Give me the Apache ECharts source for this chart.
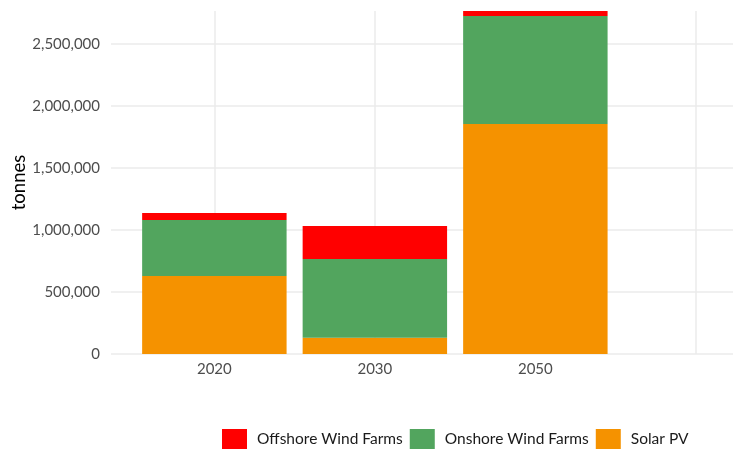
<!DOCTYPE html>
<html>
<head>
<meta charset="utf-8">
<script src="https://cdn.jsdelivr.net/npm/echarts@6/dist/echarts.min.js"></script>
<style>
html,body{margin:0;padding:0;background:#fff;}
#chart{width:733px;height:450px;}
</style>
</head>
<body>
<div id="chart"></div>
<script>
// ---- data ----
var categories = ['2020', '2030', '2050', ''];
var solarPV = [629000, 132000, 1855000, null];
var onshoreWind = [452000, 634000, 871000, null];
var offshoreWind = [56000, 266000, 40000, null];
var yTicks = [0, 500000, 1000000, 1500000, 2000000, 2500000];
var yMax = 2766000;
var legendOrder = ['Offshore Wind Farms', 'Onshore Wind Farms', 'Solar PV'];

function fmt(v) {
  return String(v).replace(/\B(?=(\d{3})+(?!\d))/g, ',');
}
var catIdx = categories.map(function (c, i) { return i; });
var labelIdx = catIdx.filter(function (i) { return categories[i] !== ''; });

// layout: one category step = 160.5px, axis expansion 0.644 step on each side
var step = 160.5, expand = 0.644, plotLeft = 111, plotTop = 11, plotBottom = 96;

var chart = echarts.init(document.getElementById('chart'), null, {renderer: 'canvas'});
var font = 'Lato';
chart.setOption({
  animation: false,
  textStyle: {fontFamily: font},
  grid: [
    // bars grid (category bands)
    {left: plotLeft + (expand - 0.5) * step, width: categories.length * step, top: plotTop, bottom: plotBottom,
     outerBoundsMode: 'none', containLabel: false},
    // guide grid (gridlines, labels)
    {left: plotLeft, width: (categories.length - 1 + 2 * expand) * step, top: plotTop, bottom: plotBottom,
     outerBoundsMode: 'none', containLabel: false}
  ],
  legend: {
    data: legendOrder,
    left: 222, top: 429, padding: 0,
    itemWidth: 25, itemHeight: 20, itemGap: 7,
    icon: 'rect',
    textStyle: {fontFamily: font, fontSize: 15.5, color: '#1a1a1a', padding: [2, 0, 0, 5]}
  },
  xAxis: [
    {type: 'category', gridIndex: 0, data: categories, show: false},
    {
      type: 'value', gridIndex: 1,
      min: -expand, max: categories.length - 1 + expand,
      axisLine: {show: false},
      axisTick: {show: false, customValues: catIdx},
      axisLabel: {
        customValues: labelIdx,
        margin: 8,
        fontFamily: font, fontSize: 15, color: '#4d4d4d',
        formatter: function (v) { return categories[Math.round(v)] || ''; }
      },
      splitLine: {show: true, lineStyle: {color: '#ebebeb', width: 1.5}}
    }
  ],
  yAxis: [
    {type: 'value', gridIndex: 0, min: 0, max: yMax, show: false, splitLine: {show: false}},
    {
      type: 'value', gridIndex: 1,
      min: 0, max: yMax,
      name: 'tonnes',
      nameLocation: 'middle',
      nameGap: 82,
      nameMoveOverlap: false,
      nameTextStyle: {fontFamily: font, fontSize: 18.5, color: '#000'},
      axisLine: {show: false},
      axisTick: {show: false, customValues: yTicks},
      axisLabel: {
        customValues: yTicks,
        margin: 11,
        fontFamily: font, fontSize: 15, color: '#4d4d4d',
        formatter: function (v) { return fmt(v); }
      },
      splitLine: {show: true, lineStyle: {color: '#ebebeb', width: 1.5}}
    }
  ],
  series: [
    {name: 'Solar PV', type: 'bar', stack: 'total', barWidth: '90%', xAxisIndex: 0, yAxisIndex: 0,
     itemStyle: {color: '#f59200'}, data: solarPV},
    {name: 'Onshore Wind Farms', type: 'bar', stack: 'total', barWidth: '90%', xAxisIndex: 0, yAxisIndex: 0,
     itemStyle: {color: '#52a55e'}, data: onshoreWind},
    {name: 'Offshore Wind Farms', type: 'bar', stack: 'total', barWidth: '90%', xAxisIndex: 0, yAxisIndex: 0,
     itemStyle: {color: '#ff0000'}, data: offshoreWind}
  ]
});
</script>
</body>
</html>
